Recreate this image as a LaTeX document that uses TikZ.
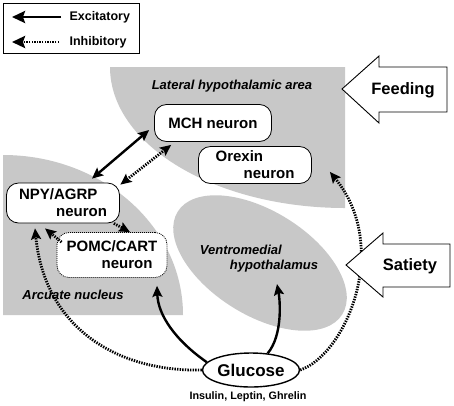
\documentclass[tikz,border=0pt]{standalone}
\usepackage{fontspec}
\setmainfont{Liberation Sans}
\usetikzlibrary{arrows.meta,shapes.geometric}
\definecolor{regiongray}{RGB}{200,200,200}

\begin{document}
\begin{tikzpicture}[x=1pt,y=1pt]
  \useasboundingbox (0,0) rectangle (454,-405);

  % shaded brain regions
  \fill[regiongray] (110,-67) -- (345,-67) -- (345,-208)
      arc[start angle=270,end angle=180,x radius=235,y radius=141] -- cycle;
  \fill[regiongray] (3,-155) arc[start angle=90,end angle=0,x radius=180,y radius=160]
      -- (3,-315) -- cycle;
  \fill[regiongray,rotate around={-32:(260,-263)}] (260,-263) ellipse[x radius=97,y radius=52];

  \begin{scope}[every node/.style={font=\fontsize{13}{15}\selectfont\bfseries\itshape,align=left}]
    \node (lha) at (232,-86) {Lateral hypothalamic area};
    \node (arcuate) at (73,-295) {Arcuate nucleus};
    \node (vmh) at (259,-259) {Ventromedial\\\hspace*{30pt}hypothalamus};
  \end{scope}

  % neurons
  \begin{scope}[every node/.style={draw=black,fill=white,rounded corners=12pt,line width=0.8pt,
                inner sep=0pt,align=left,font=\fontsize{15}{17}\selectfont\bfseries}]
    \node[minimum width=117pt,minimum height=37pt] (mch) at (213,-123) {MCH neuron};
    \node[minimum width=113pt,minimum height=37pt] (orexin) at (255,-165) {Orexin\\\hspace*{28pt}neuron};
    \node[minimum width=113pt,minimum height=40pt] (npy) at (63,-203) {NPY/AGRP\\\hspace*{37pt}neuron};
    \node[minimum width=110pt,minimum height=45pt,dash pattern=on 1pt off 1pt] (pomc) at (112,-255) {POMC/CART\\\hspace*{35pt}neuron};
  \end{scope}

  \node[ellipse,draw=black,line width=1.4pt,fill=white,minimum width=97pt,minimum height=34pt,
        inner sep=0pt,font=\fontsize{17}{19}\selectfont\bfseries] (glucose) at (251,-370) {Glucose};
  \node[font=\fontsize{10.8}{12}\selectfont\bfseries] (hormones) at (248,-397) {Insulin, Leptin, Ghrelin};

  % connections
  \begin{scope}[>={Stealth[length=11pt,width=10pt,inset=2pt]},
                excit/.style={draw=black,line width=2.4pt},
                inhib/.style={draw=black,line width=2.8pt,dash pattern=on 1.4pt off 1.2pt}]
    \path [<->] ([xshift=29pt,yshift=4pt]npy.north) edge[excit] ([xshift=-5pt,yshift=-7pt]mch.west);
    \path [<->] ([xshift=0.5pt,yshift=-2pt]npy.north east) edge[inhib] ([xshift=17pt,yshift=-3pt]mch.south west);
    \path [->] ([xshift=-6pt]npy.south east) edge[inhib] ([xshift=18pt]pomc.north);
    \path [->] ([xshift=5pt,yshift=-10pt]pomc.north west) edge[inhib] ([xshift=-18pt,yshift=-5pt]npy.south);
    \draw [inhib,->] (glucose.west) .. controls (120,-372) and (45,-330) .. ([xshift=-28pt,yshift=-5pt]npy.south);
    \draw [excit,->] (glucose.170) .. controls (175,-340) and (158,-315) .. ([xshift=45pt,yshift=-8pt]pomc.south);
    \draw [excit,->] (glucose.45) .. controls (283,-335) and (280,-300) .. ([xshift=18pt,yshift=-8pt]vmh.south);
    \draw [inhib,->] (glucose.east) .. controls (345,-355) and (392,-248) .. ([xshift=18pt,yshift=12pt]orexin.south east);
  \end{scope}

  % feeding and satiety signals
  \draw[fill=white,line width=0.9pt] (342,-89) -- (379,-56) -- (379,-67) -- (447,-67)
      -- (447,-112) -- (379,-112) -- (379,-123) -- cycle;
  \draw[fill=white,line width=0.9pt] (346,-265) -- (383,-233) -- (383,-244) -- (450,-244)
      -- (450,-287) -- (383,-287) -- (383,-297) -- cycle;
  \node[font=\fontsize{16.5}{18}\selectfont\bfseries] (feeding) at (403,-90) {Feeding};
  \node[font=\fontsize{16.5}{18}\selectfont\bfseries] (satiety) at (410,-266) {Satiety};

  % legend
  \node[draw=black,line width=0.8pt,minimum width=136pt,minimum height=50pt,inner sep=0pt] (legend) at (71,-28) {};
  \begin{scope}[every node/.style={anchor=west,font=\fontsize{12.5}{14}\selectfont\bfseries},
                >={Stealth[length=13pt,width=12pt,inset=2pt]}]
    \node (exlabel) at (66,-17) {Excitatory};
    \node (inlabel) at (66,-42) {Inhibitory};
    \coordinate (exend) at (12,-17);
    \coordinate (inend) at (12,-42);
    \draw [->,line width=2.6pt] ([xshift=-5pt]exlabel.west) -- (exend);
    \draw [->,line width=2.8pt,dash pattern=on 1.4pt off 1.2pt] ([xshift=-7pt]inlabel.west) -- (inend);
  \end{scope}
\end{tikzpicture}
\end{document}
